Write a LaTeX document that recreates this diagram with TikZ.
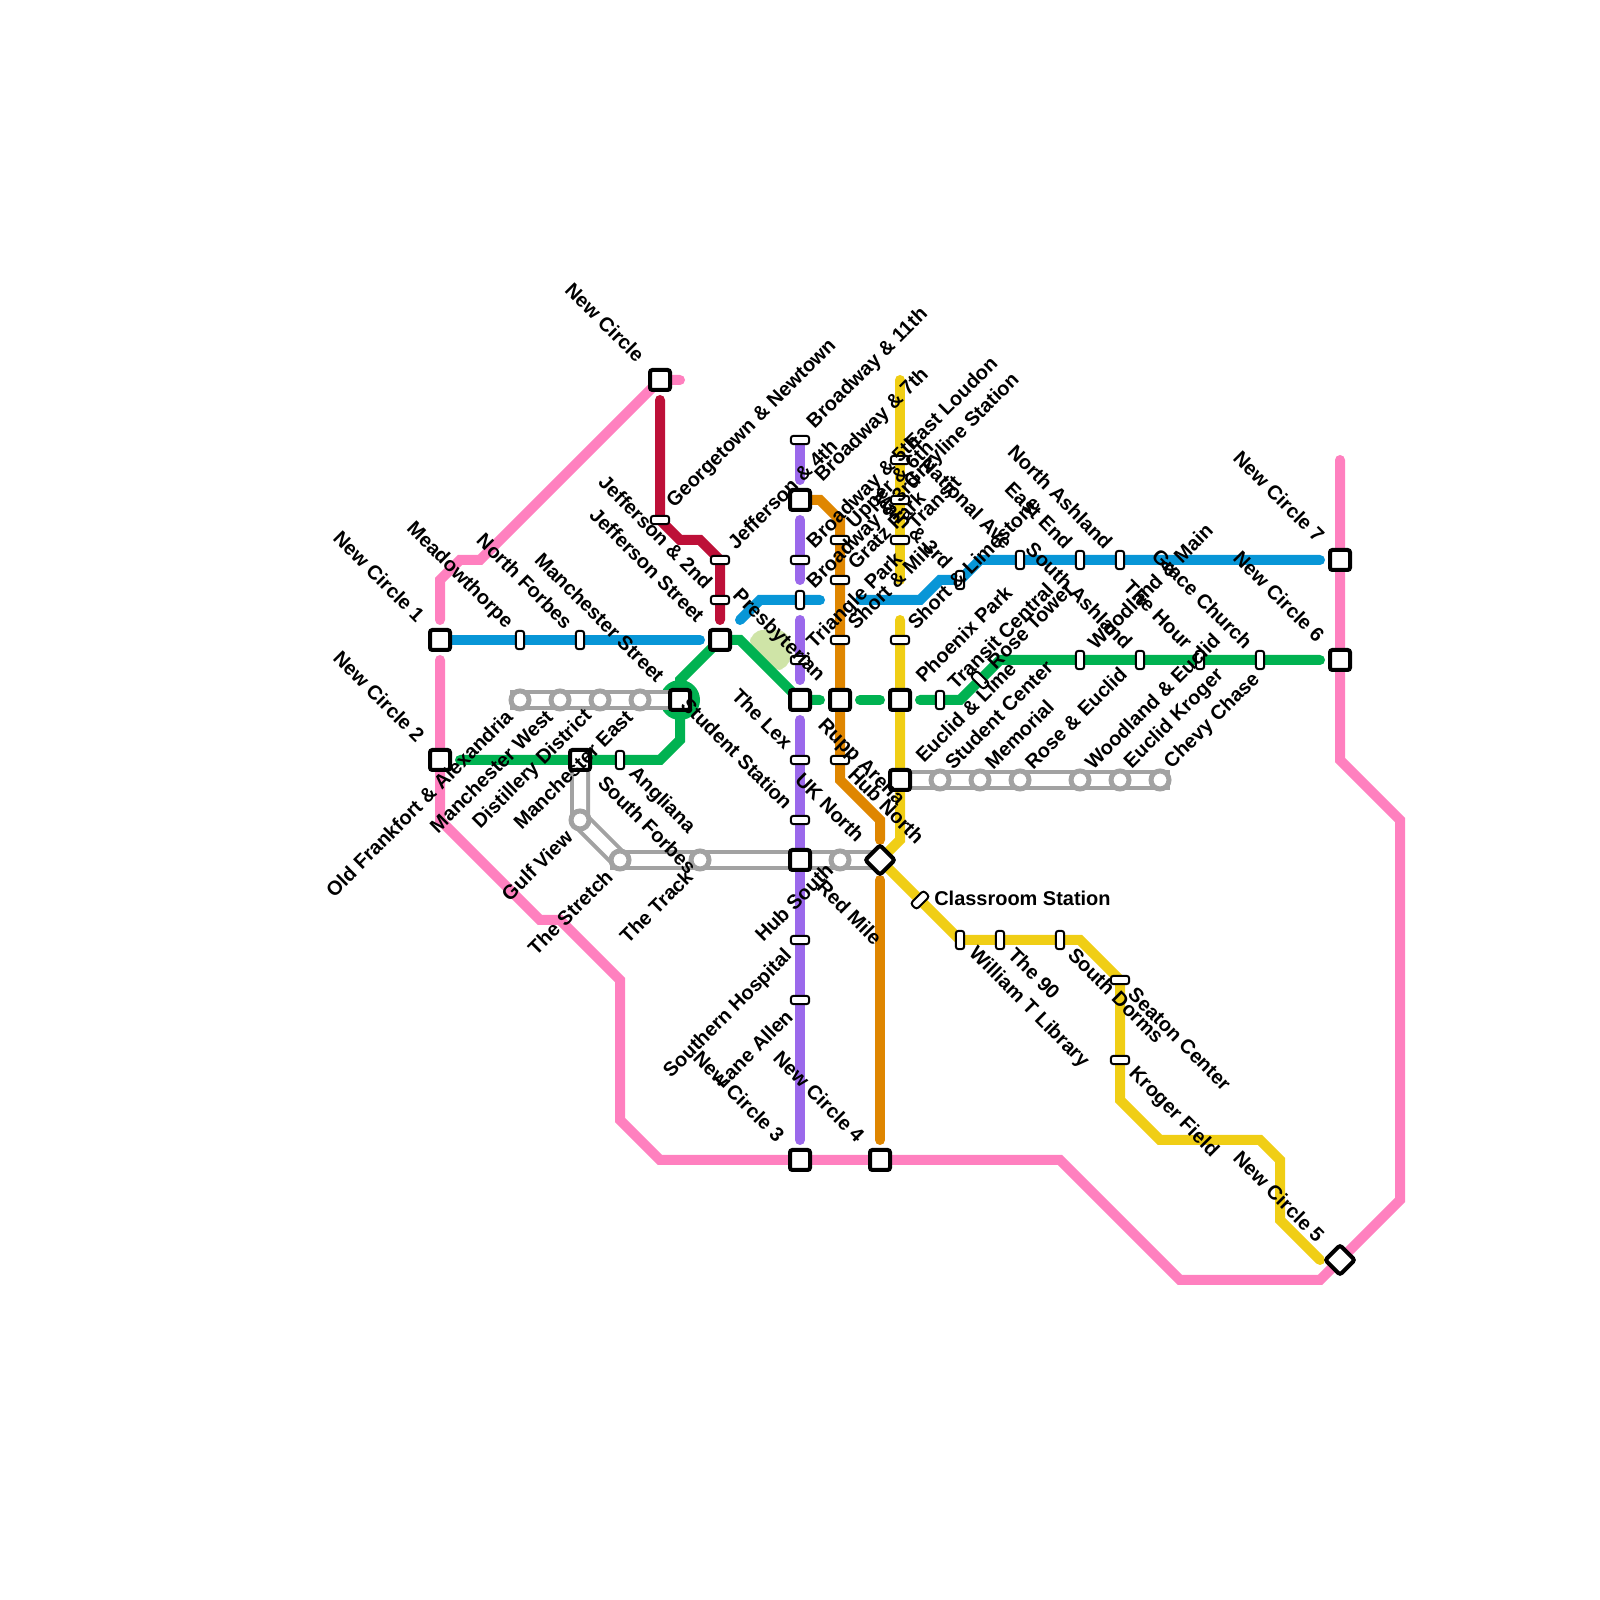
\documentclass[tikz,border=0pt]{standalone}
\usepackage{fontspec}
\setmainfont{Liberation Sans}
\usepackage{xcolor}
\usepackage{tikz}
\usetikzlibrary{backgrounds, positioning}
\definecolor{ratpink}{HTML}{FF80BF}
\definecolor{ratblue}{HTML}{0896D7}
\definecolor{ratgreen}{HTML}{00B251}
\definecolor{ratpurple}{HTML}{9B69EB}
\definecolor{ratorange}{HTML}{DF8600}
\definecolor{ratyellow}{HTML}{F0CE15}
\definecolor{ratred}{HTML}{BD1038}
\definecolor{ratgrey}{HTML}{A2A2A2}
\definecolor{ratblob}{HTML}{CFE4A7}
\tikzset{
    route/.style={line width=.25cm, line cap=round, line join=miter},
    rail/.style={draw=ratgrey, line width=.1cm, double=white, double distance=.3cm},
    gapstart/.style={shorten <=.5cm},
    gapend/.style={shorten >=.5cm},
    hub/.style={rectangle, draw=black, fill=white, line width=.1cm, rounded corners=.06cm, minimum size=.5cm, inner sep=0pt},
    diam/.style={hub, rotate=45, minimum size=.52cm, line width=.1cm},
    stop/.style={rectangle, draw=black, fill=white, line width=.05cm, rounded corners=.07cm, minimum width=.46cm, minimum height=.21cm, inner sep=0pt},
    vstop/.style={stop, rotate=90},
    ring/.style={circle, draw=ratgrey, fill=white, line width=.125cm, minimum size=.45cm, inner sep=0pt},
    txt/.style={font=\bfseries\fontsize{14.2pt}{17pt}\selectfont, inner sep=0pt, text=black},
    ul/.style={txt, xshift=-.27cm, yshift=.36cm, rotate=-45, anchor=east},
    ulb/.style={txt, xshift=-.47cm, yshift=.53cm, rotate=-45, anchor=east},
    ur/.style={txt, xshift=.27cm, yshift=.36cm, rotate=45, anchor=west},
    urb/.style={txt, xshift=.47cm, yshift=.53cm, rotate=45, anchor=west},
    urr/.style={xshift=-.07cm, ur},
    dr/.style={txt, xshift=.29cm, yshift=-.27cm, rotate=-45, anchor=west},
    dl/.style={txt, xshift=-.27cm, yshift=-.33cm, rotate=45, anchor=east},
}
\begin{document}
\begin{tikzpicture}
    \useasboundingbox (0,0) rectangle (40,40);

    \node[hub] (nc) at (16.5,30.5) {};
    \node[hub] (nc1) at (11,24) {};
    \node[hub] (nc2) at (11,21) {};
    \node[hub] (nc3) at (20,11) {};
    \node[hub] (nc4) at (22,11) {};
    \node[diam] (nc5) at (33.5,8.5) {};
    \node[hub] (nc6) at (33.5,23.5) {};
    \node[hub] (nc7) at (33.5,26) {};

    \node[stop] (gtown) at (16.5,27) {};
    \node[stop] (jef4) at (18,26) {};
    \node[stop] (jef2) at (18,25) {};
    \node[hub] (jefst) at (18,24) {};
    \node[vstop] (meadow) at (13,24) {};
    \node[vstop] (nforbes) at (14.5,24) {};
    \node[hub] (manst) at (17,22.5) {};
    \node[ring] (oldfr) at (13,22.5) {};
    \node[ring] (manw) at (14,22.5) {};
    \node[ring] (distil) at (15,22.5) {};
    \node[ring] (mane) at (16,22.5) {};
    \node[hub] (sforbes) at (14.5,21) {};
    \node[vstop] (angl) at (15.5,21) {};
    \node[ring] (gulf) at (14.5,19.5) {};
    \node[ring] (stretch) at (15.5,18.5) {};
    \node[ring] (track) at (17.5,18.5) {};

    \node[stop] (br11) at (20,29) {};
    \node[hub] (br7) at (20,27.5) {};
    \node[stop] (br5) at (20,26) {};
    \node[vstop] (br3) at (20,25) {};
    \node[stop] (tripark) at (20,23.5) {};
    \node[hub] (lex) at (20,22.5) {};
    \node[stop] (uknorth) at (20,21) {};
    \node[stop] (stustn) at (20,19.5) {};
    \node[hub] (hubs) at (20,18.5) {};
    \node[stop] (sohosp) at (20,16.5) {};
    \node[stop] (lane) at (20,15) {};

    \node[stop] (upper) at (21,26.5) {};
    \node[stop] (gratz) at (21,25.5) {};
    \node[stop] (shmill) at (21,24) {};
    \node[hub] (rupp) at (21,22.5) {};
    \node[stop] (hubn) at (21,21) {};
    \node[ring] (redmile) at (21,18.5) {};
    \node[diam] (classhub) at (22,18.5) {};

    \node[stop] (eloud) at (22.5,28.5) {};
    \node[stop] (grey) at (22.5,27.5) {};
    \node[stop] (transit) at (22.5,26.5) {};
    \node[stop] (shlime) at (22.5,24) {};
    \node[hub] (phoenix) at (22.5,22.5) {};
    \node[hub] (eulime) at (22.5,20.5) {};
    \node[stop, rotate=45] (classrm) at (23,17.5) {};
    \node[vstop] (wtlib) at (24,16.5) {};
    \node[vstop] (the90) at (25,16.5) {};
    \node[vstop] (sdorms) at (26.5,16.5) {};
    \node[stop] (seaton) at (28,15.5) {};
    \node[stop] (kroger) at (28,13.5) {};

    \node[vstop] (main3) at (24,25.5) {};
    \node[vstop] (natl) at (25.5,26) {};
    \node[vstop] (eend) at (27,26) {};
    \node[vstop] (nashl) at (28,26) {};
    \node[vstop] (tcent) at (23.5,22.5) {};
    \node[stop, rotate=-45] (rose) at (24.5,23) {};
    \node[vstop] (wmain) at (27,23.5) {};
    \node[vstop] (sashl) at (28.5,23.5) {};
    \node[vstop] (hour) at (30,23.5) {};
    \node[vstop] (grace) at (31.5,23.5) {};

    \node[ring] (stucen) at (23.5,20.5) {};
    \node[ring] (memor) at (24.5,20.5) {};
    \node[ring] (reucl) at (25.5,20.5) {};
    \node[ring] (weucl) at (27,20.5) {};
    \node[ring] (ekrog) at (28,20.5) {};
    \node[ring] (chevy) at (29,20.5) {};

    \coordinate (pinkend) at (17,30.5);
    \coordinate (pinktop) at (33.5,28.5);
    \coordinate (blueleft) at (18.5,24.5);
    \coordinate (bluemid) at (21,25);
    \coordinate (yeltop) at (22.5,30.5);
    \coordinate (yelbot) at (22.5,25.5);
    \coordinate (yelnext) at (22.5,24.5);
    \coordinate (yelend) at (33,8.5);
    \coordinate (railone) at (12.75,22.5);
    \coordinate (railtwo) at (29.25,20.5);
    \coordinate (railthree) at (15.25,18.5);

    \begin{scope}[on background layer]
        \fill[ratblob, rounded corners=.33cm] (18.75,24.25) -- (19.75,24.25) -- (19.75,23.25) -- (19.25,23.25) -- (18.75,23.75) -- cycle;
        \draw[route, ratpink, gapend] (pinkend) -- (nc.center) -- (12,26) -- (11.5,26) -- (11,25.5) -- (nc1.center);
        \draw[route, ratpink] (nc1.center) [gapstart] -- (nc2.center) -- (11,19.5) -- (13.5,17) -- (14,17) -- (15.5,15.5) -- (15.5,12) -- (16.5,11) -- (nc3.center) -- (nc4.center) -- (26.5,11) -- (29.5,8) -- (33,8) -- (nc5.center) -- (35,10) -- (35,19.5) -- (33.5,21) -- (nc6.center) -- (nc7.center) -- (pinktop);
        \node[circle, fill=ratgreen, minimum size=1cm, inner sep=0pt] (ringgreen) at (manst) {};
        \draw[route, ratgreen, gapend] (jefst.center) -- (17,23) -- (17,21.5) -- (16.5,21) -- (nc2.center);
        \draw[route, ratgreen, gapend] (jefst.center) -- (18.5,24) -- (lex.center) -- (rupp.center);
        \draw[route, ratgreen, gapstart, gapend] (rupp.center) -- (phoenix.center);
        \draw[route, ratgreen, gapstart, gapend] (phoenix.center) -- (24,22.5) -- (25,23.5) -- (nc6.center);
        \draw[rail] (railone) -- (manst.center);
        \draw[rail] (eulime.center) -- (railtwo);
        \draw[rail] (railthree) -- (classhub.center);
        \draw[rail] (sforbes.center) -- (gulf.center) -- (stretch.center);
        \draw[route, ratblue, gapend] (nc1.center) -- (jefst.center);
        \draw[route, ratblue, gapend] (blueleft) -- (19,25) -- (br3.center) -- (bluemid);
        \draw[route, ratblue, gapstart, gapend] (bluemid) -- (23,25) -- (23.5,25.5) -- (24,25.5) -- (24.5,26) -- (nc7.center);
        \draw[route, ratred, gapstart, gapend] (nc.center) -- (gtown.center) -- (17,26.5) -- (17.5,26.5) -- (jef4.center) -- (jefst.center);
        \draw[route, ratpurple, gapend] (br11.center) -- (br7.center);
        \draw[route, ratpurple, gapstart, gapend] (br7.center) -- (br3.center);
        \draw[route, ratpurple, gapstart, gapend] (br3.center) -- (lex.center);
        \draw[route, ratpurple, gapstart, gapend] (lex.center) -- (nc3.center);
        \draw[route, ratorange, gapend] (br7.center) -- (20.5,27.5) -- (21,27) -- (21,20.5) -- (22,19.5) -- (classhub.center);
        \draw[route, ratorange, gapstart, gapend] (classhub.center) -- (nc4.center);
        \draw[route, ratyellow] (yeltop) -- (yelbot);
        \draw[route, ratyellow] (yelnext) -- (22.5,19) -- (classhub.center) -- (wtlib.center) -- (27,16.5) -- (seaton.center) -- (28,12.5) -- (29,11.5) -- (31.5,11.5) -- (32,11) -- (32,9.5) -- (yelend);
    \end{scope}

    \node[ulb] (tnc) at (nc) {New Circle};
    \node[ulb] (tnc1) at (nc1) {New Circle 1};
    \node[ulb] (tnc2) at (nc2) {New Circle 2};
    \node[ulb] (tnc3) at (nc3) {New Circle 3};
    \node[ulb] (tnc4) at (nc4) {New Circle 4};
    \node[ulb] (tnc5) at (nc5) {New Circle 5};
    \node[ulb] (tnc6) at (nc6) {New Circle 6};
    \node[ulb] (tnc7) at (nc7) {New Circle 7};

    \node[ur] (tgtown) at (gtown) {Georgetown \& Newtown};
    \node[ur] (tjef4) at (jef4) {Jefferson \& 4th};
    \node[ul] (tjef2) at (jef2) {Jefferson \& 2nd};
    \node[ulb] (tjefst) at (jefst) {Jefferson Street};
    \node[ul] (tmeadow) at (meadow) {Meadowthorpe};
    \node[ul] (tnforbes) at (nforbes) {North Forbes};
    \node[ulb] (tmanst) at (manst) {Manchester Street};
    \node[dl] (toldfr) at (oldfr) {Old Frankfort \& Alexandria};
    \node[dl] (tmanw) at (manw) {Manchester West};
    \node[dl] (tdistil) at (distil) {Distillery District};
    \node[dl] (tmane) at (mane) {Manchester East};
    \node[xshift=.25cm, yshift=-.2cm, dr] (tsforbes) at (sforbes) {South Forbes};
    \node[dr] (tangl) at (angl) {Angliana};
    \node[dl] (tgulf) at (gulf) {Gulf View};
    \node[dl] (tstretch) at (stretch) {The Stretch};
    \node[dl] (ttrack) at (track) {The Track};

    \node[ur] (tbr11) at (br11) {Broadway \& 11th};
    \node[urb] (tbr7) at (br7) {Broadway \& 7th};
    \node[ur] (tbr5) at (br5) {Broadway \& 5th};
    \node[ur] (tbr3) at (br3) {Broadway \& 3rd};
    \node[ur] (ttripark) at (tripark) {Triangle Park};
    \node[ulb] (tpresb) at (rupp) {Presbyterian};
    \node[ul] (tlex) at (uknorth) {The Lex};
    \node[ul] (tstustn) at (stustn) {Student Station};
    \node[ulb] (tuknorth) at (classhub) {UK North};
    \node[xshift=-.78cm, yshift=-.3cm, dr] (tredmile) at (redmile) {Red Mile};
    \node[xshift=-1.05cm, yshift=-1.95cm, txt, rotate=45, anchor=west] (thubs) at (hubs) {Hub South};
    \node[dl] (tsohosp) at (sohosp) {Southern Hospital};
    \node[dl] (tlane) at (lane) {Lane Allen};

    \node[ur] (tupper) at (upper) {Upper \& 6th};
    \node[ur] (tgratz) at (gratz) {Gratz Park};
    \node[ur] (tshmill) at (shmill) {Short \& Mill};
    \node[xshift=-.78cm, yshift=-.3cm, dr] (trupp) at (rupp) {Rupp Arena};
    \node[dr] (thubn) at (hubn) {Hub North};

    \node[urr] (teloud) at (eloud) {East Loudon};
    \node[urr] (tgrey) at (grey) {Greyline Station};
    \node[ur] (ttransit) at (transit) {Transit};
    \node[ur] (tshlime) at (shlime) {Short \& Limestone};
    \node[urb] (tphoenix) at (phoenix) {Phoenix Park};
    \node[urb] (teulime) at (eulime) {Euclid \& Lime};
    \node[txt, anchor=west, xshift=.35cm, yshift=.05cm] (tclassrm) at (classrm) {Classroom Station};
    \node[dr] (twtlib) at (wtlib) {William T Library};
    \node[dr] (tthe90) at (the90) {The 90};
    \node[dr] (tsdorms) at (sdorms) {South Dorms};
    \node[dr] (tseaton) at (seaton) {Seaton Center};
    \node[dr] (tkroger) at (kroger) {Kroger Field};

    \node[ul] (tmain3) at (main3) {Main \& 3rd};
    \node[ul] (tnatl) at (natl) {National Ave};
    \node[ul] (teend) at (eend) {East End};
    \node[ul] (tnashl) at (nashl) {North Ashland};
    \node[ur] (ttcent) at (tcent) {Transit Central};
    \node[ur] (trose) at (rose) {Rose Tower};
    \node[ur] (twmain) at (wmain) {Woodland \& Main};
    \node[ul] (tsashl) at (sashl) {South Ashland};
    \node[ul] (thour) at (hour) {The Hour};
    \node[ul] (tgrace) at (grace) {Grace Church};

    \node[urr] (tstucen) at (stucen) {Student Center};
    \node[urr] (tmemor) at (memor) {Memorial};
    \node[urr] (treucl) at (reucl) {Rose \& Euclid};
    \node[urr] (tweucl) at (weucl) {Woodland \& Euclid};
    \node[urr] (tekrog) at (ekrog) {Euclid Kroger};
    \node[urr] (tchevy) at (chevy) {Chevy Chase};
\end{tikzpicture}
\end{document}
